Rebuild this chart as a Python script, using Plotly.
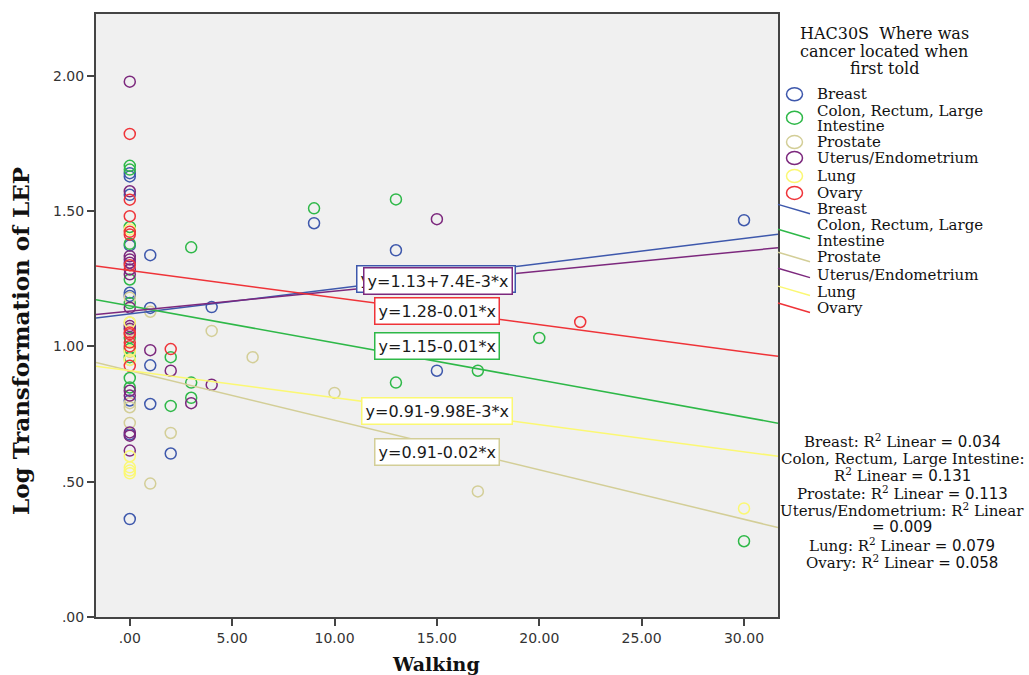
import plotly.graph_objects as go

# ---- data -------------------------------------------------------------
categories = ["Breast", "Colon, Rectum, Large Intestine", "Prostate",
              "Uterus/Endometrium", "Lung", "Ovary"]
legend_names = ["Breast", "Colon, Rectum, Large<br>Intestine", "Prostate",
                "Uterus/Endometrium", "Lung", "Ovary"]

breast_walk = [0, 0, 0, 0, 0, 0, 0, 0, 0, 1, 1, 1, 1, 2, 4, 9, 13, 15, 30]
breast_lep = [1.64, 1.628, 1.56, 1.373, 1.198, 1.186, 0.80, 0.675, 0.362,
              1.337, 1.142, 0.93, 0.787, 0.604, 1.145, 1.455, 1.355, 0.91, 1.466]

colon_walk = [0, 0, 0, 0, 0, 0, 0, 0, 0, 0, 0, 2, 2, 3, 3, 3, 9, 13, 13, 17, 20, 30]
colon_lep = [1.667, 1.653, 1.441, 1.379, 1.247, 1.16, 1.032, 0.99, 0.96, 0.883, 0.848,
             0.96, 0.78, 1.366, 0.866, 0.81, 1.51, 1.543, 0.866, 0.91, 1.031, 0.28]

prostate_walk = [0, 0, 0, 0, 0, 0, 0, 0, 1, 1, 2, 4, 6, 10, 17]
prostate_lep = [1.18, 1.088, 1.06, 0.98, 0.95, 0.79, 0.775, 0.717,
                1.128, 0.493, 0.68, 1.057, 0.96, 0.828, 0.464]

uterus_walk = [0, 0, 0, 0, 0, 0, 0, 0, 0, 0, 0, 0, 0, 0, 0, 1, 2, 3, 4, 15]
uterus_lep = [1.978, 1.573, 1.333, 1.321, 1.309, 1.284, 1.266, 1.143, 1.075, 1.065,
              0.836, 0.818, 0.682, 0.670, 0.615, 0.986, 0.91, 0.79, 0.858, 1.47]

lung_walk = [0, 0, 0, 0, 0, 0, 0, 0, 30]
lung_lep = [1.432, 1.088, 0.983, 0.95, 0.594, 0.553, 0.541, 0.531, 0.401]

ovary_walk = [0, 0, 0, 0, 0, 0, 0, 0, 0, 0, 0, 2, 22]
ovary_lep = [1.785, 1.542, 1.481, 1.423, 1.413, 1.30, 1.051, 1.045, 1.014, 1.0, 0.928,
             0.99, 1.09]

walk_values = [breast_walk, colon_walk, prostate_walk, uterus_walk, lung_walk, ovary_walk]
lep_values = [breast_lep, colon_lep, prostate_lep, uterus_lep, lung_lep, ovary_lep]

# linear fit per group: LEP = intercept + slope * Walking
intercepts = [1.12, 1.15, 0.91, 1.13, 0.91, 1.28]
slopes = [0.00928, -0.0137, -0.0183, 0.0074, -0.00998, -0.0100]
r_squared = [0.034, 0.131, 0.113, 0.009, 0.079, 0.058]

x_tick_values = [0, 5, 10, 15, 20, 25, 30]
x_tick_labels = [".00", "5.00", "10.00", "15.00", "20.00", "25.00", "30.00"]
y_tick_values = [0, 0.5, 1.0, 1.5, 2.0]
y_tick_labels = [".00", ".50", "1.00", "1.50", "2.00"]

# ---- style ------------------------------------------------------------
colors = ["#3E58AC", "#2EB848", "#D3CE97", "#7C287D", "#FBF873", "#EF3338"]
X_RANGE = [-1.65, 31.66]
Y_RANGE = [0, 2.228]
LABEL_X = 15
label_shift = [(-1, -3), (0, 15), (0, -6.5), (1, 0), (0, 0), (0, 0)]  # px
SERIF = "DejaVu Serif"
SANS = "DejaVu Sans"

W, H = 1029, 675
L, R, T, B = 96, 251, 12, 58
PW, PH = W - L - R, H - T - B


def px(x, y):
    """Figure pixel position -> paper coordinates."""
    return (x - L) / PW, (H - B - y) / PH


def note(x, y, text, size, family=SERIF, xanchor="center", **kw):
    """Free text placed at a figure pixel position."""
    tx, ty = px(x, y)
    return dict(x=tx, y=ty, xref="paper", yref="paper", showarrow=False,
                xanchor=xanchor, yanchor="middle", text=text,
                font=dict(family=family, size=size, color="#111"), **kw)


def fmt_coef(v):
    a = abs(v)
    if a < 0.01:
        mant, ex = f"{a:.2e}".split("e")
        mant = mant.rstrip("0").rstrip(".")
        return f"{mant}E{int(ex)}"
    return f"{a:.2f}"


def equation(a, b):
    sign = "+" if b >= 0 else "-"
    return f"y={a:.2f}{sign}{fmt_coef(b)}*x"


fig = go.Figure()

# scatter points
for name, xs, ys, c in zip(categories, walk_values, lep_values, colors):
    fig.add_trace(go.Scatter(
        x=xs, y=ys, mode="markers", name=name, showlegend=False,
        marker=dict(symbol="circle-open", size=11, color=c, line=dict(width=1.5)),
    ))

# fit lines across the whole axis
for name, a, b, c in zip(categories, intercepts, slopes, colors):
    fig.add_trace(go.Scatter(
        x=X_RANGE, y=[a + b * X_RANGE[0], a + b * X_RANGE[1]], mode="lines",
        showlegend=False, line=dict(color=c, width=1.5), hoverinfo="skip",
    ))

annotations = []
shapes = []

# equation labels on the fit lines
for (a, b, c, (dx, dy)) in zip(intercepts, slopes, colors, label_shift):
    annotations.append(dict(
        x=LABEL_X, y=a + b * LABEL_X, xref="x", yref="y", text=equation(a, b),
        showarrow=False, xshift=dx, yshift=dy, xanchor="center", yanchor="middle",
        font=dict(family=SANS, size=16, color="#1a1a1a"),
        bgcolor="white", bordercolor=c, borderwidth=1.5, borderpad=3,
    ))

# axis titles
annotations.append(note(21, 340, "<b>Log Transformation of LEP</b>", 23, textangle=-90))
annotations.append(note(436, 664, "<b>Walking</b>", 19))

# legend title
for txt, yy in [("HAC30S  Where was", 32), ("cancer located when", 50), ("first told", 67)]:
    annotations.append(note(884, yy, txt, 16))

# legend: markers
marker_rows = [92.5, 116, 140.5, 156.5, 174.5, 191.5]
marker_text_rows = [[92.5], [109, 124.5], [140.5], [156.5], [175], [191.5]]
for name, c, my, rows in zip(legend_names, colors, marker_rows, marker_text_rows):
    x0, y0 = px(786.5, my + 6.5)
    x1, y1 = px(802.5, my - 6.5)
    shapes.append(dict(type="circle", xref="paper", yref="paper",
                       x0=x0, x1=x1, y0=y0, y1=y1, line=dict(color=c, width=1.5)))
    for part, ry in zip(name.split("<br>"), rows):
        annotations.append(note(815, ry, part, 15, xanchor="left"))

# legend: lines
line_rows = [203, 228, 251, 267, 285, 302]
line_text_rows = [[208], [224, 239.5], [256], [274], [291], [307]]
for name, c, ly, rows in zip(legend_names, colors, line_rows, line_text_rows):
    x0, y0 = px(778, ly)
    x1, y1 = px(810, ly + 9.5)
    shapes.append(dict(type="line", xref="paper", yref="paper",
                       x0=x0, x1=x1, y0=y0, y1=y1, line=dict(color=c, width=1.5)))
    for part, ry in zip(name.split("<br>"), rows):
        annotations.append(note(815, ry, part, 15, xanchor="left"))

# R-squared notes
r2_lines = []
for name, r in zip(categories, r_squared):
    val = f"<span style='font-family:{SANS}'>= {r:.3f}</span>"
    if name.startswith("Colon"):
        r2_lines += [f"{name}:", f"R<sup>2</sup> Linear {val}"]
    elif name.startswith("Uterus"):
        r2_lines += [f"{name}: R<sup>2</sup> Linear", val]
    else:
        r2_lines.append(f"{name}: R<sup>2</sup> Linear {val}")
r2_rows = [440, 458, 475, 493, 510, 527, 545, 562]
for txt, ry in zip(r2_lines, r2_rows):
    annotations.append(note(902, ry, txt, 15))

axis_common = dict(showgrid=False, zeroline=False, showline=True, mirror=True,
                   linecolor="#444", linewidth=2, ticks="outside", ticklen=7,
                   tickwidth=1.5, tickcolor="#444",
                   tickfont=dict(family=SANS, size=14, color="#333"))

fig.update_layout(
    width=W, height=H, margin=dict(l=L, r=R, t=T, b=B),
    paper_bgcolor="white", plot_bgcolor="#f0f0f0",
    xaxis=dict(range=X_RANGE, tickvals=x_tick_values, ticktext=x_tick_labels, **axis_common),
    yaxis=dict(range=Y_RANGE, tickvals=y_tick_values, ticktext=y_tick_labels, **axis_common),
    annotations=annotations, shapes=shapes, showlegend=False,
)

fig.write_html("out.html")
